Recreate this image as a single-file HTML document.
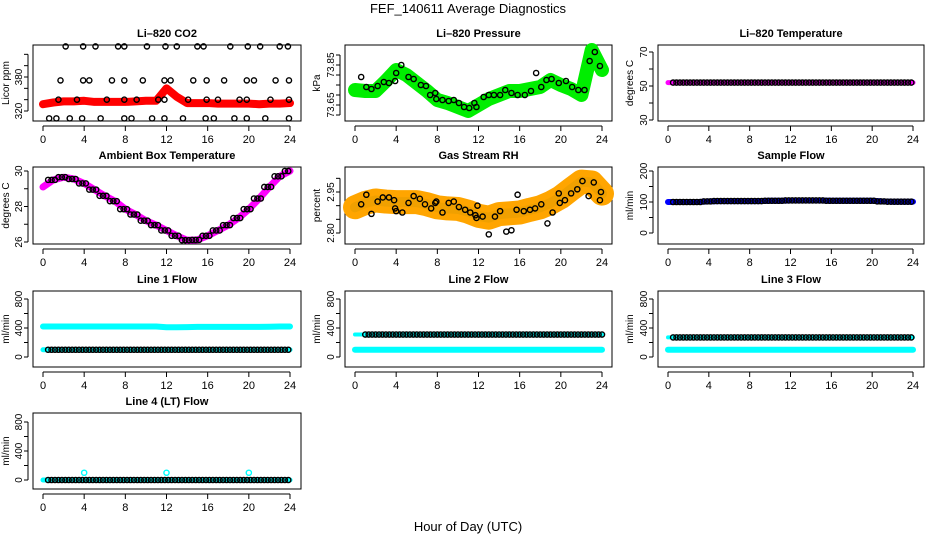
<!DOCTYPE html>
<html><head><meta charset="utf-8">
<style>
body{margin:0;background:#fff;}
svg{display:block;font-family:"Liberation Sans",Arial,sans-serif;}
</style></head>
<body>
<svg id="chart" width="936" height="540" viewBox="0 0 936 540">
<text x="468" y="13" text-anchor="middle" font-size="13">FEF_140611  Average Diagnostics</text>
<text x="468" y="531" text-anchor="middle" font-size="13">Hour of Day (UTC)</text>
</svg>
<script>
// ---- data ----
const hourTicks = [0,4,8,12,16,20,24];
const hours = [0,1,2,3,4,5,6,7,8,9,10,11,12,13,14,15,16,17,18,19,20,21,22,23,24];
const co2Band = [332,335,337,337,338,336,336,336,336,337,338,338,360,345,334,334,334,333,333,333,333,332,333,333,334];
const co2BlackX = [0.6,1.3,2.6,3.8,5.6,7.9,8.6,10.6,11.8,13.6,15.8,16.6,18.6,19.8,21.6,23.9,1.5,3.3,6.2,7.9,9.1,11.2,11.8,14.1,15.9,17.0,19.1,19.8,22.1,23.9,1.7,3.9,4.5,6.7,7.9,9.7,11.8,12.4,14.6,15.9,17.6,19.8,20.5,22.6,23.9,2.2,3.9,5.1,7.3,7.9,10.1,11.9,13.0,15.0,15.6,18.2,19.9,21.1,23.0,23.8];
const co2BlackY = [307,307,307,307,307,307,307,307,307,307,307,307,307,307,307,307,340,340,340,340,340,340,340,340,340,340,340,340,340,340,374,374,374,374,374,374,374,374,374,374,374,374,374,374,374,434,434,434,434,434,434,434,434,434,434,434,434,434,434,434];
const presBand = [73.725,73.72,73.72,73.77,73.825,73.80,73.76,73.72,73.675,73.66,73.64,73.62,73.65,73.68,73.70,73.72,73.72,73.73,73.74,73.775,73.75,73.73,73.70,73.925,73.825];
const presBlackX = [0.6,1.1,1.6,2.2,2.8,3.3,3.9,4.0,4.5,5.2,5.7,6.4,6.9,7.3,7.8,7.9,8.5,9.1,9.6,10.1,10.6,11.1,11.6,11.8,12.5,13.0,13.5,14.1,14.6,15.2,15.8,16.5,17.1,17.6,18.1,18.6,19.1,19.8,20.5,21.1,21.7,22.3,22.8,23.3,23.8];
const presBlackY = [73.79,73.74,73.73,73.745,73.765,73.76,73.77,73.81,73.85,73.79,73.78,73.75,73.745,73.70,73.71,73.68,73.675,73.67,73.675,73.66,73.64,73.635,73.66,73.64,73.69,73.70,73.70,73.70,73.725,73.71,73.70,73.70,73.72,73.81,73.74,73.775,73.78,73.76,73.77,73.74,73.725,73.725,73.87,73.915,73.845];
const tempBand = [52,52,52,52,52,52,52,52,52,52,52,52,52,52,52,52,52,52,52,52,52,52,52,52,52];
const ambBand = [29.1,29.5,29.65,29.55,29.3,28.95,28.6,28.3,27.85,27.55,27.2,26.95,26.65,26.35,26.1,26.12,26.35,26.65,26.95,27.35,27.85,28.45,29.1,29.7,30.0];
const rhBand = [2.894,2.91,2.919,2.915,2.913,2.913,2.913,2.905,2.894,2.89,2.888,2.878,2.863,2.856,2.869,2.872,2.875,2.885,2.894,2.91,2.931,2.96,2.988,2.985,2.944];
const rhBlackX = [0.6,1.1,1.6,2.2,2.7,3.3,3.8,3.9,4.0,4.6,5.2,5.7,6.3,6.8,7.4,7.8,7.9,8.5,9.1,9.6,10.1,10.7,11.2,11.7,11.8,11.9,12.4,13.0,13.6,14.1,14.7,15.2,15.7,15.8,16.4,17.0,17.5,18.1,18.7,19.2,19.8,19.9,20.4,21.0,21.6,22.1,22.7,23.2,23.8,23.9];
const rhBlackY = [2.905,2.94,2.87,2.915,2.93,2.93,2.92,2.89,2.88,2.875,2.91,2.935,2.925,2.905,2.89,2.91,2.915,2.875,2.91,2.915,2.895,2.885,2.875,2.865,2.855,2.9,2.86,2.795,2.86,2.88,2.805,2.81,2.885,2.94,2.88,2.885,2.89,2.905,2.835,2.875,2.945,2.91,2.92,2.945,2.96,2.99,2.935,2.985,2.92,2.95];
const sampleBand = [100,100,100,100,102,103,103,103,103,103,104,104,105,105,105,105,104,104,104,104,104,102,101,101,101];
const l1Cyan = [420,420,420,420,420,420,420,420,420,420,420,420,410,410,412,415,415,415,415,415,415,415,418,420,420];
const l1Black = [100,100,100,100,100,100,100,100,100,100,100,100,100,100,100,100,100,100,100,100,100,100,100,100,100];
const l2Cyan = [100,100,100,100,100,100,100,100,100,100,100,100,100,100,100,100,100,100,100,100,100,100,100,100,100];
const l2Black = [310,310,310,310,310,310,310,310,310,310,310,310,310,310,310,310,310,310,310,310,310,310,310,310,310];
const l3Cyan = [100,100,100,100,100,100,100,100,100,100,100,100,100,100,100,100,100,100,100,100,100,100,100,100,100];
const l3Black = [270,270,270,270,270,270,270,270,270,270,270,270,270,270,270,270,270,270,270,270,270,270,270,270,270];
const l4Cyan = [0,0,0,0,0,0,0,0,0,0,0,0,0,0,0,0,0,0,0,0,0,0,0,0,0];
const l4SpikeX = [4,12,20];
const l4SpikeY = [100,100,100];
const l4Black = [0,0,0,0,0,0,0,0,0,0,0,0,0,0,0,0,0,0,0,0,0,0,0,0,0];

// ---- layout ----
const NS='http://www.w3.org/2000/svg';
const svg=document.getElementById('chart');
const cols=[{l:33,r:301,x0:43,x24:290,yl:9},{l:345,r:612,x0:355,x24:602,yl:320},{l:658,r:924,x0:668,x24:913,yl:633}];
const rows=[{t:45,b:121},{t:167,b:244},{t:291,b:367},{t:413,b:489}];
function el(tag,attrs,parent){const e=document.createElementNS(NS,tag);for(const k in attrs)e.setAttribute(k,attrs[k]);(parent||svg).appendChild(e);return e;}

function panel(name,title,ylab,ci,ri,v1,y1,v2,y2,ticks,labels){
  const c=cols[ci],r=rows[ri];
  const g=el('g',{});
  
  
  const xs=h=>c.x0+(c.x24-c.x0)*h/24;
  const ys=v=>y1+(v-v1)*(y2-y1)/(v2-v1);
  const t=el('text',{x:(c.l+c.r)/2,y:r.t-8,'text-anchor':'middle','font-size':11,'font-weight':'bold'},g);
  t.textContent=title;
  
  
  const box=el('rect',{x:c.l,y:r.t,width:c.r-c.l,height:r.b-r.t,fill:'none',stroke:'#000','stroke-width':1},g);
  
  
  const xa=el('g',{},g);
  
  
  el('line',{x1:xs(0),x2:xs(24),y1:r.b+5,y2:r.b+5,stroke:'#000'},xa);
  hourTicks.forEach(h=>{
    el('line',{x1:xs(h),x2:xs(h),y1:r.b+5,y2:r.b+10,stroke:'#000'},xa);
    const tx=el('text',{x:xs(h),y:r.b+22,'text-anchor':'middle','font-size':11},xa);
    tx.textContent=h;
  });
  const ya=el('g',{},g);
  
  
  const ax=c.l-5;
  el('line',{x1:ax,x2:ax,y1:ys(ticks[0]),y2:ys(ticks[ticks.length-1]),stroke:'#000'},ya);
  ticks.forEach(v=>{el('line',{x1:ax,x2:ax-4,y1:ys(v),y2:ys(v),stroke:'#000'},ya);});
  labels.forEach(v=>{
    const tx=el('text',{x:0,y:0,'text-anchor':'middle','font-size':10,transform:`translate(${ax-6},${ys(v)}) rotate(-90)`},ya);
    tx.textContent=v;
  });
  const yl=el('text',{x:0,y:0,'text-anchor':'middle','font-size':10,transform:`translate(${c.yl},${(r.t+r.b)/2}) rotate(-90)`},g);
  yl.textContent=ylab;
  
  
  return {g,xs,ys};
}
function band(p,name,vals,color,w){
  const pts=hours.map((h,i)=>p.xs(h)+','+p.ys(vals[i])).join(' ');
  const pl=el('polyline',{points:pts,fill:'none',stroke:color,'stroke-width':w,'stroke-linejoin':'round','stroke-linecap':'round'},p.g);
  
  
}
function pts(p,name,xsArr,ysArr,color){
  const gg=el('g',{},p.g);
  
  
  xsArr.forEach((h,i)=>{el('circle',{cx:p.xs(h),cy:p.ys(ysArr[i]),r:2.6,fill:'none',stroke:color,'stroke-width':1.4},gg);});
}
function hourlyPts(p,name,vals,color,start){
  const gg=el('g',{},p.g);
  
  
  for(let k=start*3;k<=72;k++){const h=k/3;const v=vals[Math.min(24,Math.round(h))];
    el('circle',{cx:p.xs(h),cy:p.ys(v),r:2.6,fill:'none',stroke:color,'stroke-width':1.4},gg);}
}

// CO2
let p=panel('co2','Li\u2013820 CO2','Licor ppm',0,0,320,111,380,77,[320,340,360,380,400,420],[320,380]);
band(p,'co2-series',co2Band,'#ff0000',8);
pts(p,'co2-average-points',co2BlackX,co2BlackY,'#000');
// Pressure
p=panel('pressure','Li\u2013820 Pressure','kPa',1,0,73.65,105,73.85,65,[73.60,73.65,73.70,73.75,73.80,73.85,73.90],['73.65','73.85']);
band(p,'pressure-series',presBand,'#00ee00',14);
pts(p,'pressure-average-points',presBlackX,presBlackY,'#000');
// Temperature
p=panel('li820-temp','Li\u2013820 Temperature','degrees C',2,0,30,120,70,52,[30,40,50,60,70],[30,50,70]);
band(p,'temperature-series',tempBand,'#ff00ff',5);
hourlyPts(p,'temperature-average-points',tempBand,'#000',0.5);
// Ambient
p=panel('ambient-temp','Ambient Box Temperature','degrees C',0,1,26,242,30,171,[26,27,28,29,30],[26,28,30]);
band(p,'ambient-series',ambBand,'#ff00ff',7);
hourlyPts(p,'ambient-average-points',ambBand,'#000',0.5);
// RH
p=panel('gas-rh','Gas Stream RH','percent',1,1,2.80,233,2.95,192,[2.80,2.85,2.90,2.95,3.00],['2.80','2.95']);
band(p,'rh-series',rhBand,'#ffa500',24);
band(p,'rh-series-core',rhBand,'#f0a000',10);
pts(p,'rh-average-points',rhBlackX,rhBlackY,'#000');
// Sample flow
p=panel('sample-flow','Sample Flow','ml/min',2,1,0,233,200,171,[0,50,100,150,200],[0,100,200]);
band(p,'sample-flow-series',sampleBand,'#0000ff',6);
hourlyPts(p,'sample-flow-average-points',sampleBand,'#000',0.5);
// Line flows
const ft=[0,200,400,600,800],fl=[0,400,800];
p=panel('line1-flow','Line 1 Flow','ml/min',0,2,0,357,800,299,ft,fl);
band(p,'line1-flow-series',l1Cyan,'#00ffff',6);
band(p,'line1-flow-low-series',l1Black,'#00ffff',5);
hourlyPts(p,'line1-average-points',l1Black,'#000',0.5);
p=panel('line2-flow','Line 2 Flow','ml/min',1,2,0,357,800,299,ft,fl);
band(p,'line2-flow-series',l2Cyan,'#00ffff',6);
band(p,'line2-flow-high-series',l2Black,'#00ffff',4);
hourlyPts(p,'line2-average-points',l2Black,'#000',1);
p=panel('line3-flow','Line 3 Flow','ml/min',2,2,0,357,800,299,ft,fl);
band(p,'line3-flow-series',l3Cyan,'#00ffff',6);
band(p,'line3-flow-high-series',l3Black,'#00ffff',4);
hourlyPts(p,'line3-average-points',l3Black,'#000',0.5);
p=panel('line4-flow','Line 4 (LT) Flow','ml/min',0,3,0,480,800,422,ft,fl);
band(p,'line4-flow-series',l4Cyan,'#00ffff',5);
pts(p,'line4-spikes',l4SpikeX,l4SpikeY,'#00ffff');
hourlyPts(p,'line4-average-points',l4Black,'#000',0.5);
</script>
</body></html>
